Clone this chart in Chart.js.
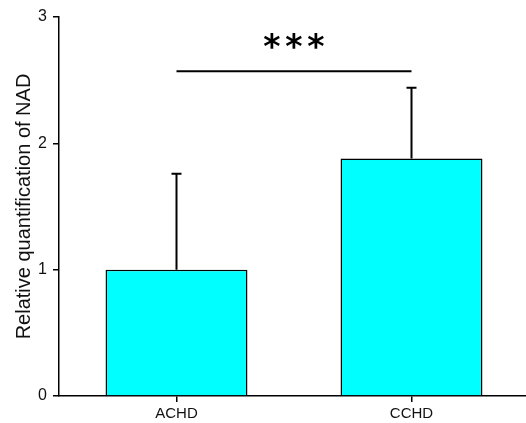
<!DOCTYPE html>
<html>
<head>
<meta charset="utf-8">
<script src="https://cdn.jsdelivr.net/npm/chart.js@4/dist/chart.umd.min.js"></script>
<style>
  html, body { margin: 0; padding: 0; background: #ffffff; overflow: hidden; }
  #wrap { width: 526px; height: 423px; position: relative; overflow: hidden; }
</style>
</head>
<body>
<div id="wrap"><canvas id="c" width="529" height="423"></canvas></div>
<script>
// ---- data ----
const categories = ["ACHD", "CCHD"];
const means = [1.0, 1.88];
const errorsUp = [0.76, 0.56];
const yTicks = [0, 1, 2, 3];
const sigLevel = 2.57;
const starLevel = 2.80;
const sigLabel = "***";
const yTitle = "Relative quantification of NAD";

const errorBarPlugin = {
  id: 'errorBars',
  afterDatasetsDraw(chart) {
    const ctx = chart.ctx;
    const x = chart.scales.x, y = chart.scales.y;
    ctx.save();
    ctx.strokeStyle = '#000';
    ctx.lineWidth = 2;
    means.forEach((m, i) => {
      const cx = x.getPixelForValue(i);
      const y0 = y.getPixelForValue(m);
      const y1 = y.getPixelForValue(m + errorsUp[i]);
      ctx.beginPath();
      ctx.moveTo(cx, y0);
      ctx.lineTo(cx, y1);
      ctx.moveTo(cx - 5, y1);
      ctx.lineTo(cx + 5, y1);
      ctx.stroke();
    });
    // significance line
    const xa = x.getPixelForValue(0), xb = x.getPixelForValue(1);
    const ys = y.getPixelForValue(sigLevel);
    ctx.beginPath();
    ctx.moveTo(xa, ys);
    ctx.lineTo(xb, ys);
    ctx.stroke();
    // stars
    const yst = y.getPixelForValue(starLevel);
    const mid = (xa + xb) / 2;
    ctx.fillStyle = '#000';
    ctx.font = 'bold 33px "DejaVu Sans"';
    ctx.textAlign = 'center';
    ctx.textBaseline = 'middle';
    const chars = sigLabel.split('');
    const gap = 22;
    chars.forEach((ch, k) => {
      const off = (k - (chars.length - 1) / 2) * gap;
      ctx.fillText(ch, mid + off, yst + 7);
    });
    ctx.restore();
  }
};

new Chart(document.getElementById('c'), {
  type: 'bar',
  data: {
    labels: categories,
    datasets: [{
      data: means,
      backgroundColor: '#00FFFF',
      borderColor: '#000000',
      borderWidth: 1.5,
      borderSkipped: 'bottom',
      categoryPercentage: 1.0,
      barPercentage: 0.604
    }]
  },
  options: {
    responsive: false,
    animation: false,
    devicePixelRatio: 1,
    layout: { padding: { top: 17, right: 0, left: 0, bottom: 0 } },
    plugins: { legend: { display: false }, tooltip: { enabled: false } },
    scales: {
      x: {
        offset: true,
        grid: { display: true, offset: false, drawOnChartArea: false, drawTicks: true, tickLength: 6, color: '#000', lineWidth: 1.5 },
        border: { display: true, color: '#000', width: 1.5 },
        ticks: { color: '#111', font: { family: 'Arial, "Liberation Sans"', size: 15 }, padding: 3 },
        afterFit(s) { s.height = 27; }
      },
      y: {
        min: 0, max: 3,
        afterBuildTicks(s) { s.ticks = yTicks.map(v => ({ value: v })); },
        grid: { display: true, drawOnChartArea: false, drawTicks: true, tickLength: 6, color: '#000', lineWidth: 1.5 },
        border: { display: true, color: '#000', width: 1.5 },
        ticks: { color: '#111', font: { family: 'Arial, "Liberation Sans"', size: 16 }, padding: 6 },
        title: { display: true, text: yTitle, color: '#111', font: { family: 'Arial, "Liberation Sans"', size: 20 }, padding: { top: 12, bottom: 0 } },
        afterFit(s) { s.width = 59; }
      }
    }
  },
  plugins: [errorBarPlugin]
});
</script>
</body>
</html>
